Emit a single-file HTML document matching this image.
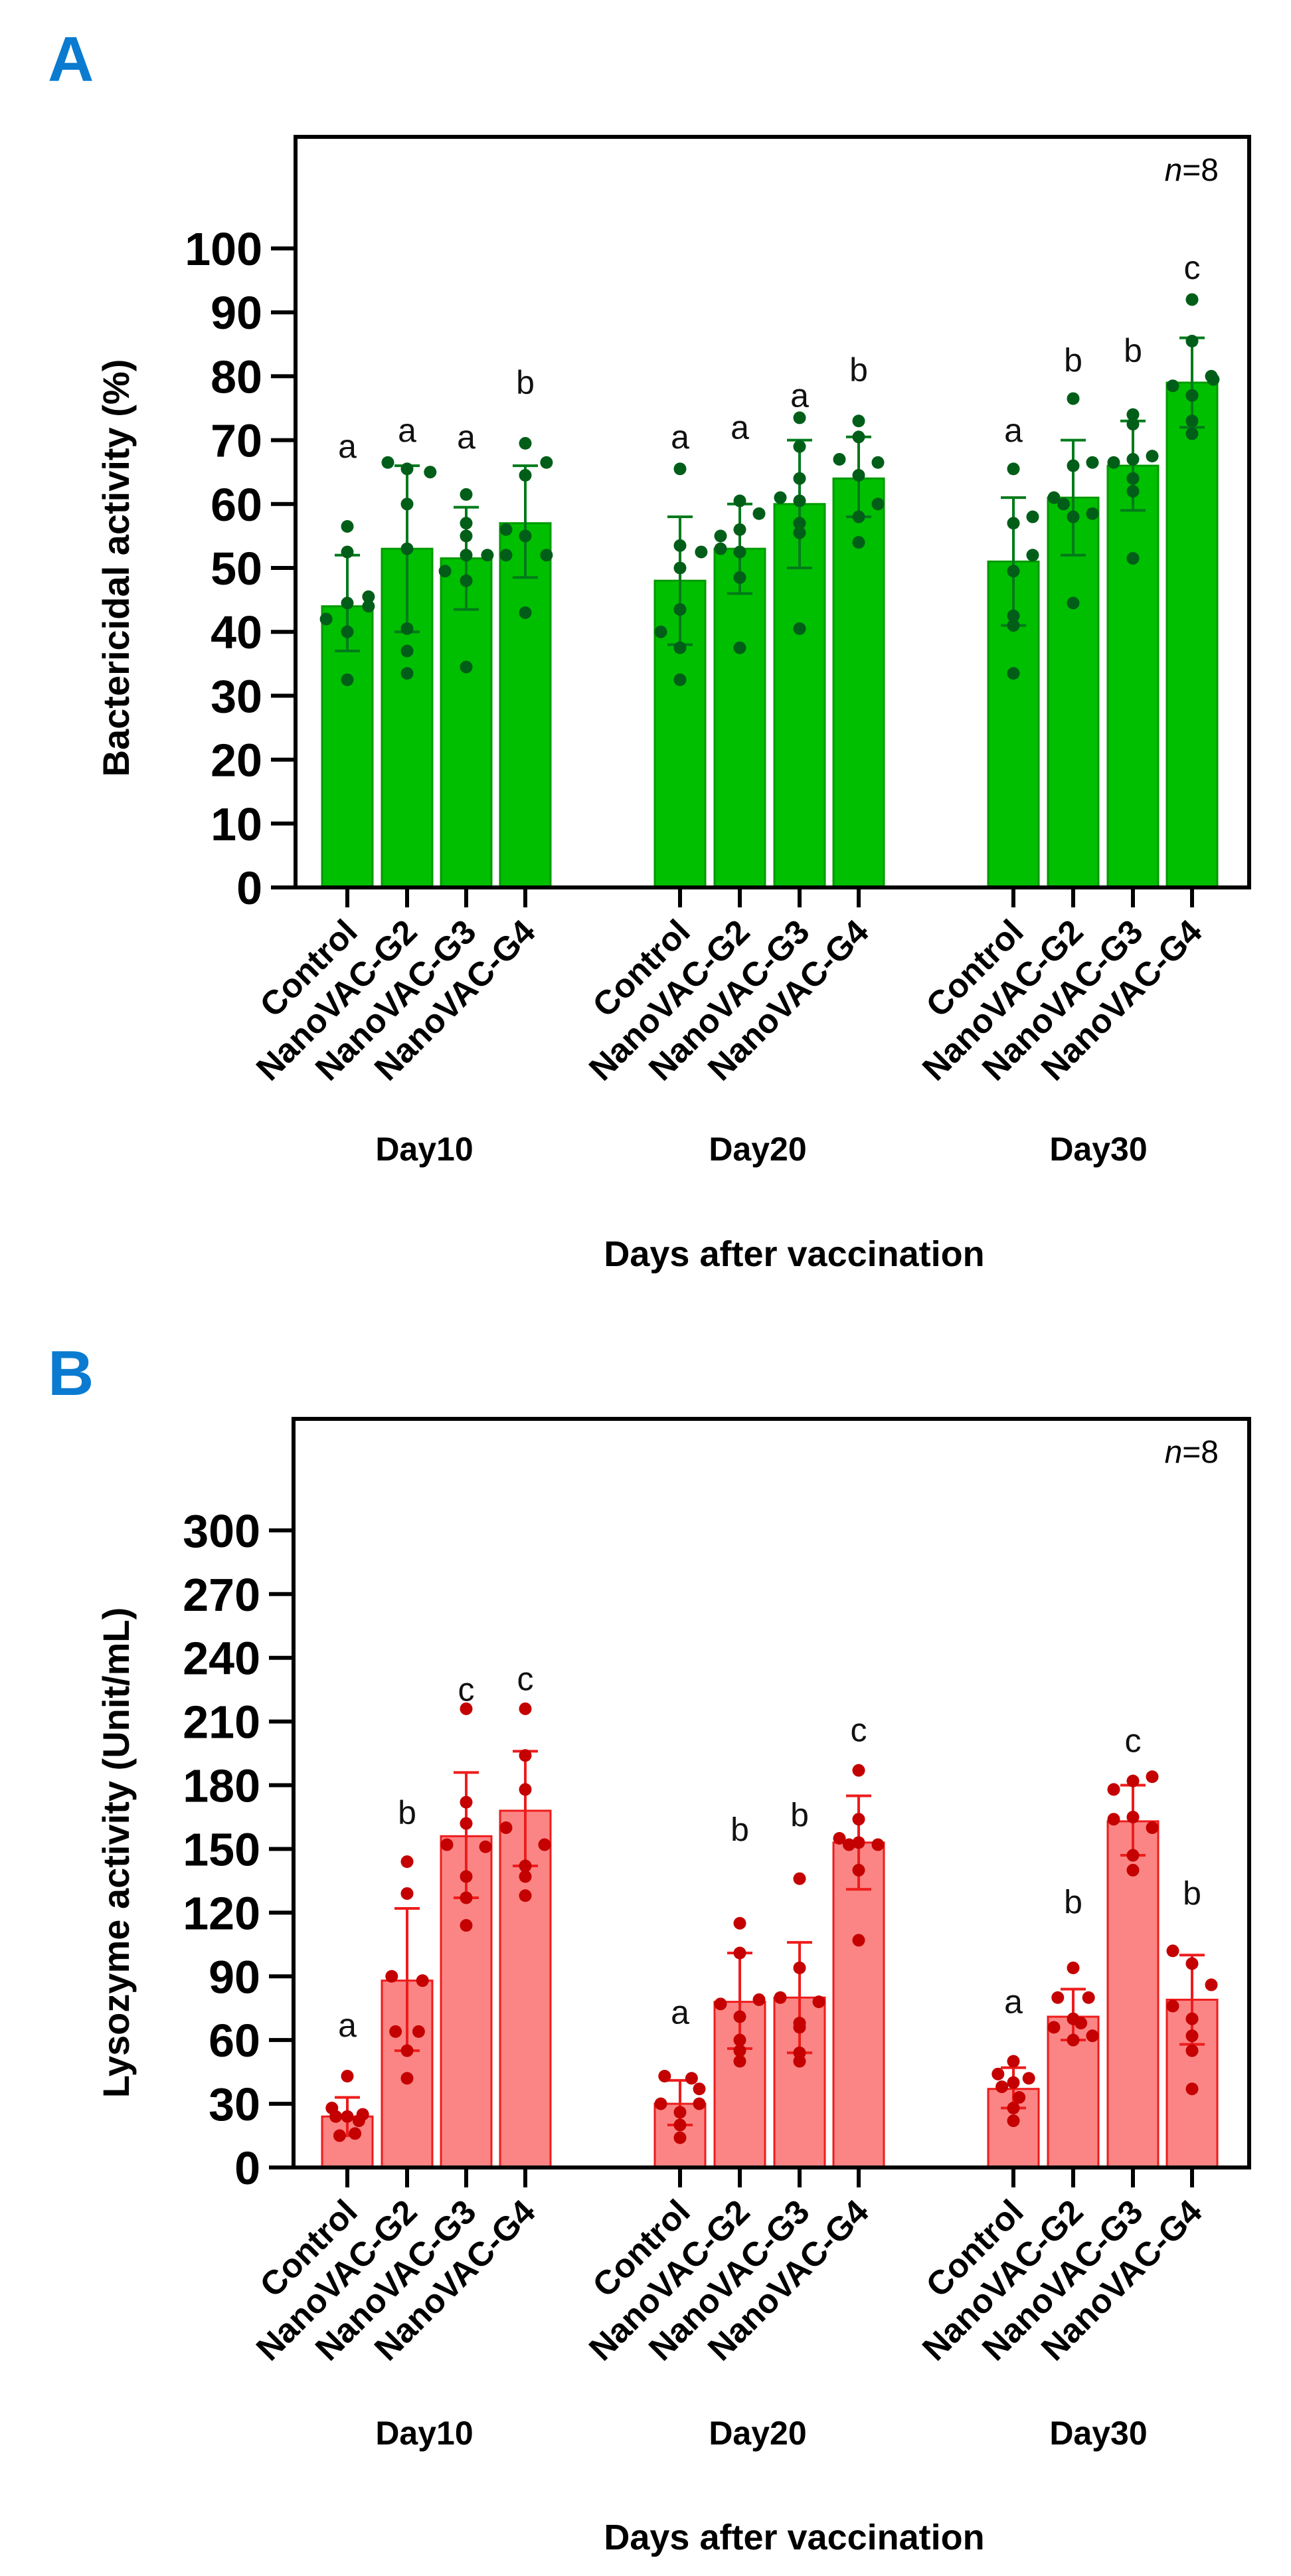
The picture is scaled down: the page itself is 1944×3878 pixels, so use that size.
<!DOCTYPE html>
<html><head><meta charset="utf-8"><style>
html,body{margin:0;padding:0;background:#fff;}
svg{display:block;font-family:"Liberation Sans",Arial,sans-serif;}
</style></head><body>
<svg id="s" width="1944" height="3878" viewBox="0 0 1944 3878" xmlns="http://www.w3.org/2000/svg"></svg>
<script>
var S=document.getElementById('s');var out='';
var xs=[523,613,702,791,1024,1114,1204,1293,1526,1616,1706,1795];
var names=['Control','NanoVAC-G2','NanoVAC-G3','NanoVAC-G4'];
function panel(o){
 var y0=o.y0, ppu=o.ppu;
 function Y(v){return y0-v*ppu;}
 out+='<text x="72" y="'+o.ly+'" font-size="96" font-weight="bold" fill="#0a7bd0">'+o.L+'</text>';
 // bars
 for(var i=0;i<12;i++){
  var d=o.d[i],x=xs[i];
  out+='<rect x="'+(x-38)+'" y="'+Y(d.m)+'" width="76" height="'+(d.m*ppu)+'" fill="'+o.fill+'" stroke="'+o.stroke+'" stroke-width="3"/>';
  out+='<line x1="'+x+'" x2="'+x+'" y1="'+Y(d.lo)+'" y2="'+Y(d.hi)+'" stroke="'+o.eb+'" stroke-width="4"/>';
  out+='<line x1="'+(x-19)+'" x2="'+(x+19)+'" y1="'+Y(d.lo)+'" y2="'+Y(d.lo)+'" stroke="'+o.eb+'" stroke-width="4"/>';
  out+='<line x1="'+(x-19)+'" x2="'+(x+19)+'" y1="'+Y(d.hi)+'" y2="'+Y(d.hi)+'" stroke="'+o.eb+'" stroke-width="4"/>';
  for(var j=0;j<d.p.length;j++){var pv=d.p[j];
   out+='<circle cx="'+(x+pv[1]*29)+'" cy="'+Y(pv[0])+'" r="9.5" fill="'+o.dot+'"/>';}
  out+='<text x="'+x+'" y="'+(Y(d.lv)+17)+'" font-size="50" text-anchor="middle" fill="#111">'+d.l+'</text>';
 }
 // frame
 out+='<rect x="'+o.fx+'" y="'+o.fy+'" width="'+(1881-o.fx)+'" height="'+(y0-o.fy)+'" fill="none" stroke="#000" stroke-width="6"/>';
 out+='<text x="1835" y="'+o.ny+'" font-size="48" text-anchor="end" fill="#000"><tspan font-style="italic">n</tspan>=8</text>';
 // ticks
 for(var t=0;t<=o.tmax;t+=o.tstep){var yy=Y(t);
  out+='<line x1="'+(o.fx-37)+'" x2="'+o.fx+'" y1="'+yy+'" y2="'+yy+'" stroke="#000" stroke-width="6"/>';
  out+='<text x="'+(o.fx-50)+'" y="'+(yy+25)+'" font-size="70" font-weight="bold" text-anchor="end">'+t+'</text>';}
 for(var i=0;i<12;i++){var x=xs[i];
  out+='<line x1="'+x+'" x2="'+x+'" y1="'+y0+'" y2="'+(y0+30)+'" stroke="#000" stroke-width="6"/>';
  out+='<text transform="translate('+(x+18)+','+(y0+70)+') rotate(-45)" font-size="51" font-weight="bold" text-anchor="end">'+names[i%4]+'</text>';}
 var dl=['Day10','Day20','Day30'],dc=[639,1141,1654];
 for(var k=0;k<3;k++)out+='<text x="'+dc[k]+'" y="'+o.dy+'" font-size="50" font-weight="bold" text-anchor="middle">'+dl[k]+'</text>';
 out+='<text x="1196" y="'+o.ay+'" font-size="54" font-weight="bold" text-anchor="middle">Days after vaccination</text>';
 out+='<text transform="translate(194,'+o.tcy+') rotate(-90)" font-size="56" font-weight="bold" text-anchor="middle">'+o.title+'</text>';
}
function B(m,lo,hi,l,lv,p){return {m:m,lo:lo,hi:hi,l:l,lv:lv,p:p};}
var A=[
B(44,37,52,'a',69,[[56.5,0],[52.5,0],[45.5,1.1],[44.5,0],[42,-1.1],[44,1.1],[40,0],[32.5,0]]),
B(53,40,66,'a',71.5,[[66.5,-1],[65,1.2],[65.5,0],[60,0],[53,0],[40.5,0],[37,0],[33.5,0]]),
B(51.5,43.5,59.5,'a',70.5,[[61.5,0],[57,0],[55,0],[52,1.1],[52,0],[48,0],[49.5,-1.1],[34.5,0]]),
B(57,48.5,66,'b',79,[[69.5,0],[66.5,1.1],[64.5,0],[56,-1],[55,0],[52,1.1],[52,-1],[43,0]]),
B(48,38,58,'a',70.5,[[65.5,0],[53.5,0],[52.5,1.1],[50,0],[43.5,0],[40,-1],[37.5,0],[32.5,0]]),
B(53,46,60,'a',72,[[60.5,0],[58.5,1],[56,0],[55,-1],[52.5,0],[48.5,0],[53,-1],[37.5,0]]),
B(60,50,70,'a',77,[[73.5,0],[69,0],[64,0],[61,-1],[60.5,0],[55.5,0],[57,0],[40.5,0]]),
B(64,58,70.5,'b',81,[[73,0],[70.5,0],[67,-1],[66.5,1],[64.5,0],[60,1],[58,0],[54,0]]),
B(51,41,61,'a',71.5,[[65.5,0],[58,1],[57,0],[52,1],[49.5,0],[42.5,0],[41,0],[33.5,0]]),
B(61,52,70,'b',82.5,[[76.5,0],[66.5,1],[66,0],[61,-1],[58.5,1],[58,0],[60,-0.5],[44.5,0]]),
B(66,59,73,'b',84,[[74,0],[72.5,0],[67.5,1],[67,0],[66.5,-1],[64,0],[62,0],[51.5,0]]),
B(79,72,86,'c',97,[[92,0],[85.5,0],[80,1],[79.5,1.1],[78.5,-1],[77,0],[73,0],[71,0]])];
var Bd=[
B(24,15,33,'a',67,[[43,0],[28,-0.8],[25,0.8],[24,0],[24,-0.6],[22,0.6],[15,-0.4],[16,0.4]]),
B(88,55,122,'b',167,[[144,0],[129,0],[90,-0.8],[88,0.8],[64,-0.6],[64,0.6],[55,0],[42,0]]),
B(156,127,186,'c',225,[[216,0],[172,0],[162,0],[152,-1],[151,1],[137,0],[127,0],[114,0]]),
B(168,142,196,'c',230,[[216,0],[194,0],[178,0],[160,-1],[152,1],[142,0],[137,0],[128,0]]),
B(30,20,41,'a',73,[[43,-0.8],[42,0.6],[37,1],[30,-1],[30,1],[26,0],[20,0],[14,0]]),
B(78,56,101,'b',159,[[115,0],[101,0],[77,-1],[79,1],[60,0],[55,0],[50,0],[71,0]]),
B(80,54,106,'b',166,[[136,0],[94,0],[80,-1],[78,1],[68,0],[66,0],[54,0],[50,0]]),
B(153,131,175,'c',206,[[187,0],[164,0],[155,-1],[152,1],[153,0],[152,-0.5],[140,0],[107,0]]),
B(37,28,47,'a',78,[[50,0],[44,-0.8],[42,0.8],[40,0],[38,-0.6],[33,0.3],[28,0],[22,0]]),
B(71,60,84,'b',125,[[94,0],[80,-0.8],[80,0.8],[70,0],[66,-1],[62,1],[60,0],[68,0.4]]),
B(163,147,180,'c',201,[[184,1],[182,0],[178,-1],[165,0],[164,-1],[160,1],[147,0],[140,0]]),
B(79,58,100,'b',129,[[102,-1],[96,0],[86,1],[76,-1],[70,0],[62,0],[55,0],[37,0]])];
panel({L:'A',ly:122,y0:1336,ppu:9.62,fx:445,fy:206,fill:'#00bf00',stroke:'#009a00',eb:'#007a1a',dot:'#005e18',d:A,tmax:100,tstep:10,ny:272,dy:1747,ay:1906,tcy:855,title:'Bactericidal activity (%)'});
panel({L:'B',ly:2100,y0:3263,ppu:3.197,fx:442,fy:2136,fill:'#fb8585',stroke:'#ee1c1c',eb:'#ee1c1c',dot:'#c40000',d:Bd,tmax:300,tstep:30,ny:2202,dy:3680,ay:3838,tcy:2789,title:'Lysozyme activity (Unit/mL)'});
S.innerHTML=out;
</script>
</body></html>
